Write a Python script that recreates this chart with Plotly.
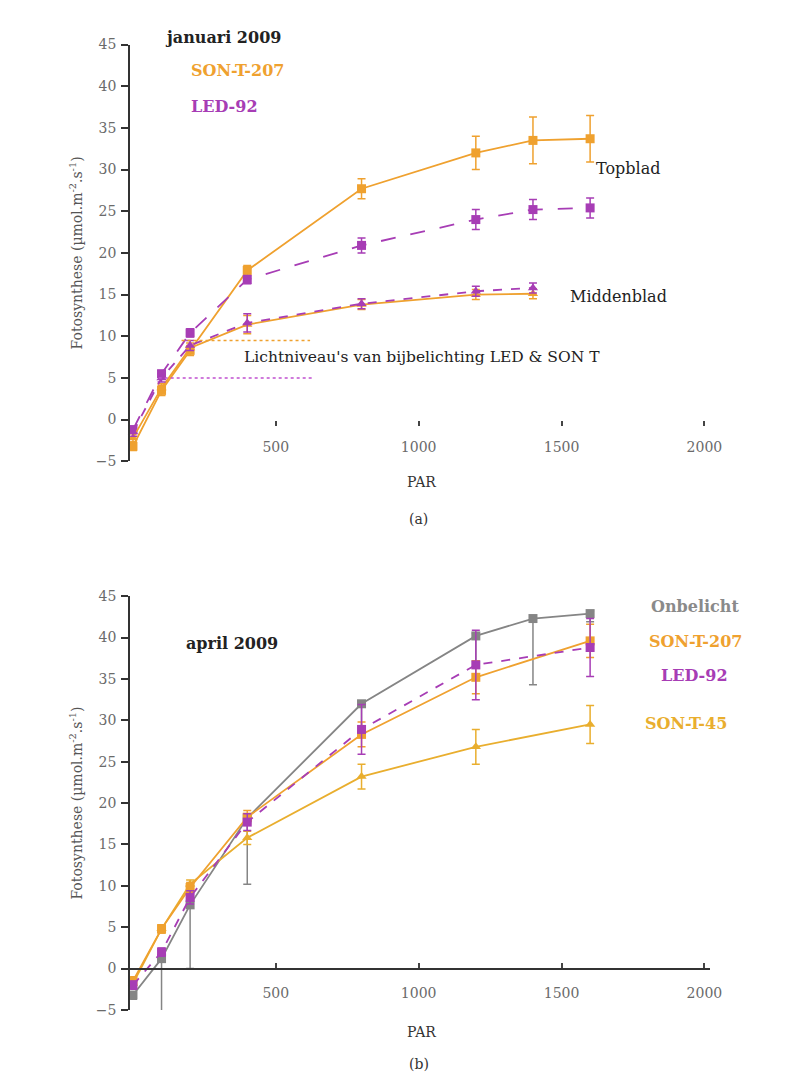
import plotly.graph_objects as go

# ---------------- data: panel (a) januari 2009 ----------------
par_a = [0, 100, 200, 400, 800, 1200, 1400, 1600]
son_top = [-3.2, 3.5, 8.3, 17.9, 27.7, 32.0, 33.5, 33.7]
son_top_err = [0.5, 0.6, 0.6, 0.6, 1.2, 2.0, 2.8, 2.8]
led_top = [-1.2, 5.5, 10.4, 16.8, 20.9, 24.0, 25.2, 25.4]
led_top_err = [0.4, 0.4, 0.5, 0.5, 0.9, 1.2, 1.2, 1.2]

par_mid = [0, 100, 200, 400, 800, 1200, 1400]
son_mid = [-2.2, 3.8, 8.6, 11.4, 13.8, 15.0, 15.1]
son_mid_err = [0.5, 0.5, 0.6, 1.1, 0.6, 0.6, 0.6]
led_mid = [-1.5, 5.0, 8.9, 11.6, 13.9, 15.4, 15.8]
led_mid_err = [0.5, 0.5, 0.6, 1.1, 0.6, 0.6, 0.6]

# light levels of supplementary lighting (dotted reference lines)
son_level_x = [170, 620]
son_level_y = [9.5, 9.5]
led_level_x = [90, 630]
led_level_y = [5.0, 5.0]

# ---------------- data: panel (b) april 2009 ----------------
par_b = [0, 100, 200, 400, 800, 1200, 1400, 1600]
onb = [-3.2, 1.2, 7.7, 18.2, 32.0, 40.2, 42.3, 42.9]
onb_err_plus = [0.3, 0.3, 0.3, 0.3, 0.3, 0.3, 0.3, 0.3]
onb_err_minus = [0.5, 6.8, 7.7, 8.0, 4.0, 3.0, 8.0, 1.0]

par_b2 = [0, 100, 200, 400, 800, 1200, 1600]
son207 = [-1.5, 4.8, 9.8, 18.3, 28.3, 35.2, 39.6]
son207_err = [0.5, 0.5, 0.6, 0.8, 1.5, 2.0, 2.0]
led92 = [-2.0, 2.0, 8.6, 17.7, 28.9, 36.7, 38.8]
led92_err = [0.5, 0.5, 0.8, 1.0, 3.0, 4.2, 3.5]
son45 = [-1.8, 4.8, 10.2, 15.8, 23.2, 26.8, 29.5]
son45_err = [0.5, 0.5, 0.5, 0.8, 1.5, 2.1, 2.3]

x_ticks = [500, 1000, 1500, 2000]
y_ticks = [-5, 0, 5, 10, 15, 20, 25, 30, 35, 40, 45]

ORANGE = "#EFA12F"
GOLD = "#E9AE2E"
PURPLE = "#A73DB5"
GRAY = "#858585"
SERIF = "DejaVu Serif, Liberation Serif, serif"

# page geometry: keep the figure inside the window (body margin of 8 px)
OFF = 8
W, H = 802 - 2 * OFF, 1088 - 2 * OFF

fig = go.Figure()


def add(x, y, err, color, symbol, dash, xa, ya, err_minus=None, width=1.8, size=9):
    ey = dict(type="data", array=err, color=color, thickness=1.5, width=4, visible=True)
    if err_minus is not None:
        ey["symmetric"] = False
        ey["arrayminus"] = err_minus
    fig.add_trace(go.Scatter(
        x=x, y=y, mode="lines+markers", xaxis=xa, yaxis=ya,
        line=dict(color=color, width=width, dash=dash),
        marker=dict(symbol=symbol, size=size, color=color),
        error_y=ey, showlegend=False, cliponaxis=False))


# panel (a)
add(par_a, son_top, son_top_err, ORANGE, "square", "solid", "x", "y")
add(par_a, led_top, led_top_err, PURPLE, "square", "longdash", "x", "y")
add(par_mid, son_mid, son_mid_err, ORANGE, "triangle-up", "solid", "x", "y")
add(par_mid, led_mid, led_mid_err, PURPLE, "triangle-up", "dash", "x", "y")
fig.add_trace(go.Scatter(x=son_level_x, y=son_level_y, mode="lines", xaxis="x", yaxis="y",
                         line=dict(color=ORANGE, width=1.5, dash="dot"), showlegend=False))
fig.add_trace(go.Scatter(x=led_level_x, y=led_level_y, mode="lines", xaxis="x", yaxis="y",
                         line=dict(color="#C050D0", width=1.5, dash="dot"), showlegend=False))

# panel (b)
add(par_b, onb, onb_err_plus, GRAY, "square", "solid", "x2", "y2", err_minus=onb_err_minus)
add(par_b2, son45, son45_err, GOLD, "triangle-up", "solid", "x2", "y2")
add(par_b2, son207, son207_err, ORANGE, "square", "solid", "x2", "y2")
add(par_b2, led92, led92_err, PURPLE, "square", "dash", "x2", "y2")


def px(xp):
    return (xp - OFF) / W


def py(yp):
    return 1 - (yp - OFF) / H


TICKFONT = dict(family=SERIF, size=14, color="#6a6a6a")

xaxis_common = dict(range=[-10, 2020], tickvals=x_ticks, showgrid=False, zeroline=False,
                    tickfont=TICKFONT, tickcolor="#444", ticklen=5, tickwidth=1.5,
                    domain=[px(132), px(721)], anchor="free")
yaxis_common = dict(range=[-5, 45], tickvals=y_ticks, showgrid=False, zeroline=False,
                    showline=True, linecolor="#333", linewidth=2, ticks="outside",
                    ticklen=7, tickwidth=2, tickcolor="#333", tickfont=TICKFONT,
                    ticklabelstandoff=2,
                    title=dict(text="Fotosynthese (µmol.m<sup>-2</sup>.s<sup>-1</sup>)",
                               font=dict(family=SERIF, size=14, color="#555"), standoff=10))

fig.update_layout(
    width=W, height=H, margin=dict(l=0, r=0, t=0, b=0),
    paper_bgcolor="white", plot_bgcolor="rgba(0,0,0,0)",
    xaxis=dict(**xaxis_common, position=py(418), showline=False, ticks="outside",
               ticklabelstandoff=9),
    yaxis=dict(**yaxis_common, domain=[py(460), py(37)], anchor="x"),
    xaxis2=dict(**xaxis_common, position=py(975), showline=True, linecolor="#333",
                linewidth=2, ticks="inside", ticklabelstandoff=12),
    yaxis2=dict(**yaxis_common, domain=[py(1017), py(597)], anchor="x2"),
)

ann = []


def text(s, x, y, size=16, color="#222", bold=False):
    if bold:
        s = "<b>" + s + "</b>"
    ann.append(dict(text=s, x=px(x), y=py(y), xref="paper", yref="paper", showarrow=False,
                    xanchor="center", yanchor="middle",
                    font=dict(family=SERIF, size=size, color=color)))


text("januari 2009", 226, 30, 16, "#222", True)
text("SON-T-207", 241, 63, 16, ORANGE, True)
text("LED-92", 228, 100, 16, PURPLE, True)
text("Topblad", 638, 163, 16, "#222")
text("Middenblad", 628, 293, 16, "#222")
text("Lichtniveau's van bijbelichting LED &amp; SON T", 428, 354, 15.5, "#222")
text("PAR", 428, 481, 14, "#333")
text("(a)", 425, 519, 14, "#333")

text("april 2009", 235, 645, 16, "#222", True)
text("Onbelicht", 706, 607, 16, "#8a8a8a", True)
text("SON-T-207", 706, 643, 16, ORANGE, True)
text("LED-92", 705, 677, 16, PURPLE, True)
text("SON-T-45", 697, 726, 16, GOLD, True)
text("PAR", 428, 1039, 14, "#333")
text("(b)", 425, 1072, 14, "#333")

fig.update_layout(annotations=ann)

fig.write_html("out.html")
